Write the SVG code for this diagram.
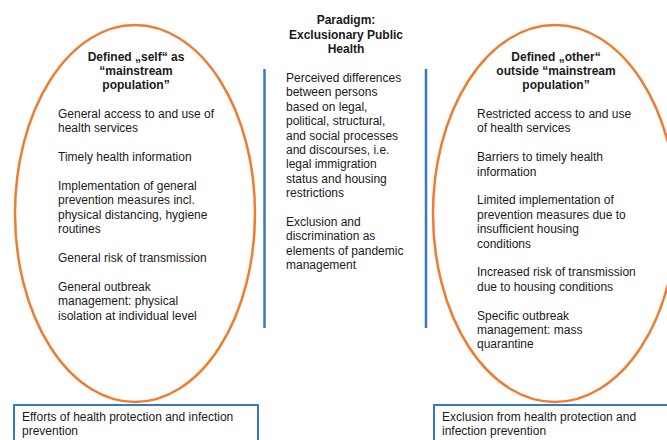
<svg xmlns="http://www.w3.org/2000/svg" width="667" height="440" viewBox="0 0 667 440">
<style>
.t{font-family:"Liberation Sans",Arial,sans-serif;font-size:12px;fill:#1a1a1a}
.b{font-weight:bold;text-anchor:middle}
.ell{fill:none;stroke:#ED7D31;stroke-width:2.5}
.bl{stroke:#3878C0;stroke-width:2.5;fill:none}
.box{fill:#fff;stroke:#3878C0;stroke-width:2}
</style>
<rect width="667" height="440" fill="#fff"/>
<g id="connectors">
<line class="bl" x1="264.5" y1="69" x2="264.5" y2="328"/>
<line class="bl" x1="426" y1="69" x2="426" y2="328"/>
</g>
<g id="self">
<ellipse class="ell" cx="135" cy="213.5" rx="120" ry="188.5"/>
<text class="t b" x="136" y="61">Defined „self“ as</text>
<text class="t b" x="136" y="75">“mainstream</text>
<text class="t b" x="136" y="89">population”</text>
<text class="t" x="58" y="118">General access to and use of</text>
<text class="t" x="58" y="132.4">health services</text>
<text class="t" x="58" y="161.2">Timely health information</text>
<text class="t" x="58" y="190">Implementation of general</text>
<text class="t" x="58" y="204.4">prevention measures incl.</text>
<text class="t" x="58" y="218.8">physical distancing, hygiene</text>
<text class="t" x="58" y="233.2">routines</text>
<text class="t" x="58" y="262">General risk of transmission</text>
<text class="t" x="58" y="290.8">General outbreak</text>
<text class="t" x="58" y="305.2">management: physical</text>
<text class="t" x="58" y="319.6">isolation at individual level</text>
</g>
<g id="paradigm">
<text class="t b" x="346" y="24">Paradigm:</text>
<text class="t b" x="346" y="39">Exclusionary Public</text>
<text class="t b" x="346" y="53">Health</text>
<text class="t" x="286" y="82">Perceived differences</text>
<text class="t" x="286" y="96.4">between persons</text>
<text class="t" x="286" y="110.8">based on legal,</text>
<text class="t" x="286" y="125.2">political, structural,</text>
<text class="t" x="286" y="139.6">and social processes</text>
<text class="t" x="286" y="154">and discourses, i.e.</text>
<text class="t" x="286" y="168.4">legal immigration</text>
<text class="t" x="286" y="182.8">status and housing</text>
<text class="t" x="286" y="197.2">restrictions</text>
<text class="t" x="286" y="226">Exclusion and</text>
<text class="t" x="286" y="240.4">discrimination as</text>
<text class="t" x="286" y="254.8">elements of pandemic</text>
<text class="t" x="286" y="269.2">management</text>
</g>
<g id="other">
<ellipse class="ell" cx="555" cy="213.5" rx="122" ry="188.5"/>
<text class="t b" x="556" y="61">Defined „other“</text>
<text class="t b" x="556" y="75">outside “mainstream</text>
<text class="t b" x="556" y="89">population”</text>
<text class="t" x="477" y="118">Restricted access to and use</text>
<text class="t" x="477" y="132.4">of health services</text>
<text class="t" x="477" y="161.2">Barriers to timely health</text>
<text class="t" x="477" y="175.6">information</text>
<text class="t" x="477" y="204.4">Limited implementation of</text>
<text class="t" x="477" y="218.8">prevention measures due to</text>
<text class="t" x="477" y="233.2">insufficient housing</text>
<text class="t" x="477" y="247.6">conditions</text>
<text class="t" x="477" y="276.4">Increased risk of transmission</text>
<text class="t" x="477" y="290.8">due to housing conditions</text>
<text class="t" x="477" y="319.6">Specific outbreak</text>
<text class="t" x="477" y="334">management: mass</text>
<text class="t" x="477" y="348.4">quarantine</text>
</g>
<g id="box-left">
<rect class="box" x="14" y="405" width="244" height="50"/>
<text class="t" x="22" y="421">Efforts of health protection and infection</text>
<text class="t" x="22" y="435.4">prevention</text>
</g>
<g id="box-right">
<rect class="box" x="434" y="405" width="250" height="50"/>
<text class="t" x="442" y="421">Exclusion from health protection and</text>
<text class="t" x="442" y="435.4">infection prevention</text>
</g>
</svg>
